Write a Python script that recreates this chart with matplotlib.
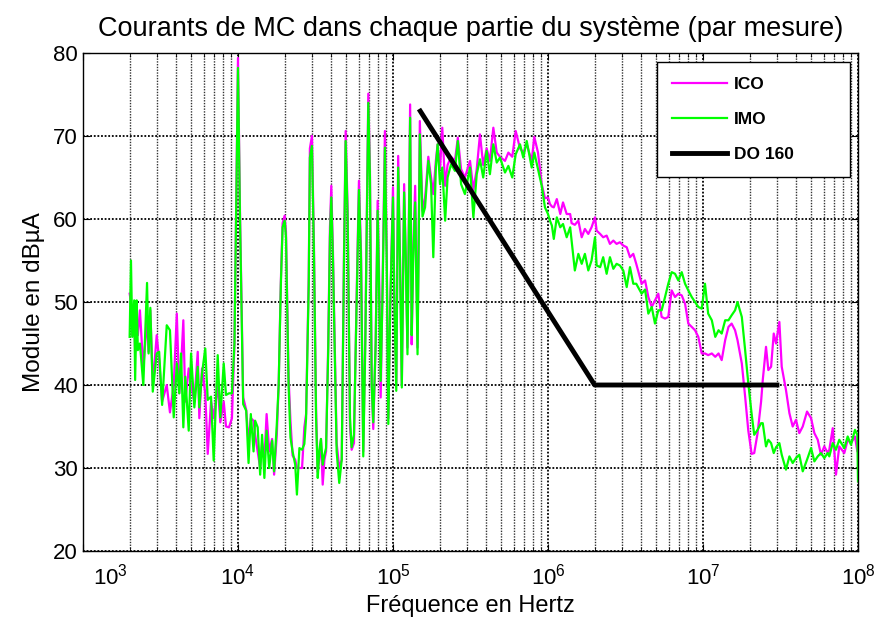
import numpy as np
import matplotlib
matplotlib.use("Agg")
import matplotlib.pyplot as plt
import matplotlib.transforms as mtransforms
from matplotlib.ticker import FixedLocator, LogLocator, NullFormatter

plt.rcParams['font.family'] = ['Liberation Sans', 'DejaVu Sans']
plt.rcParams['mathtext.default'] = 'regular'

# frequences (Hz)
freq = [
    2.0e3, 2.04e3, 2.08e3, 2.14e3, 2.17e3, 2.22e3, 2.26e3, 2.33e3, 2.45e3, 2.59e3,
    2.65e3, 2.72e3, 2.82e3, 2.99e3, 3.10e3, 3.24e3, 3.47e3, 3.64e3, 3.85e3, 4.03e3,
    4.18e3, 4.29e3, 4.44e3, 4.57e3, 4.81e3, 4.98e3, 5.23e3, 5.50e3, 5.63e3, 5.86e3,
    6.15e3, 6.38e3, 6.70e3, 6.97e3, 7.40e3, 7.69e3, 8.09e3, 8.37e3, 8.75e3, 9.14e3,
    9.49e3, 1.0e4,
    1.03e4, 1.08e4, 1.13e4, 1.17e4, 1.21e4, 1.26e4, 1.29e4, 1.34e4, 1.39e4, 1.43e4,
    1.48e4, 1.53e4, 1.59e4, 1.66e4, 1.71e4, 1.78e4, 1.83e4, 1.89e4, 1.94e4, 2.0e4,
    2.04e4, 2.12e4, 2.18e4, 2.25e4, 2.34e4, 2.40e4, 2.49e4, 2.59e4, 2.68e4, 2.75e4,
    2.86e4, 2.91e4, 3.0e4, 3.09e4, 3.19e4, 3.27e4, 3.34e4, 3.43e4, 3.52e4, 3.61e4,
    3.70e4, 3.82e4, 3.92e4, 4.0e4,
    4.1e4, 4.33e4, 4.50e4, 4.67e4, 4.83e4, 4.95e4, 5.10e4, 5.28e4, 5.41e4, 5.60e4,
    5.83e4, 6.03e4, 6.22e4, 6.43e4, 6.63e4, 6.93e4, 7.10e4, 7.29e4, 7.46e4, 7.73e4,
    7.96e4, 8.16e4, 8.33e4, 8.58e4, 8.87e4, 9.11e4, 9.33e4, 9.61e4, 1.0e5, 1.02e5,
    1.05e5, 1.08e5, 1.11e5, 1.14e5, 1.18e5, 1.21e5, 1.24e5, 1.29e5, 1.32e5, 1.35e5,
    1.39e5, 1.44e5, 1.49e5, 1.55e5,
    1.61e5, 1.69e5, 1.76e5, 1.82e5, 1.89e5, 1.94e5, 2.01e5, 2.08e5, 2.17e5, 2.25e5,
    2.37e5, 2.51e5, 2.62e5, 2.75e5, 2.91e5, 3.14e5, 3.30e5, 3.47e5, 3.64e5, 3.82e5,
    4.02e5, 4.22e5, 4.44e5, 4.67e5, 4.90e5, 5.28e5, 5.55e5, 5.88e5, 6.19e5, 6.60e5,
    6.93e5, 7.29e5, 7.85e5, 8.16e5, 8.62e5, 9.11e5, 9.56e5,
    1.0e6, 1.03e6, 1.06e6, 1.09e6, 1.14e6, 1.20e6, 1.25e6, 1.32e6, 1.39e6, 1.42e6,
    1.49e6, 1.57e6, 1.65e6, 1.73e6, 1.82e6, 1.91e6, 2.01e6, 2.06e6, 2.17e6, 2.27e6,
    2.39e6, 2.51e6, 2.64e6, 2.77e6, 2.91e6, 3.06e6, 3.22e6, 3.38e6, 3.55e6, 3.71e6,
    4.02e6, 4.23e6, 4.44e6, 4.67e6, 4.90e6, 5.15e6, 5.41e6, 5.69e6, 5.97e6, 6.28e6,
    6.60e6, 6.93e6, 7.29e6, 7.66e6, 8.04e6, 8.46e6, 8.88e6, 9.33e6, 9.81e6, 1.03e7,
    1.08e7, 1.14e7, 1.20e7, 1.26e7, 1.32e7, 1.39e7, 1.46e7, 1.53e7, 1.61e7, 1.67e7,
    1.78e7, 1.87e7, 1.96e7, 2.06e7,
    2.14e7, 2.25e7, 2.37e7, 2.43e7, 2.55e7, 2.64e7, 2.75e7, 2.86e7, 2.96e7, 3.11e7,
    3.22e7, 3.43e7, 3.61e7, 3.79e7, 3.98e7, 4.18e7, 4.40e7, 4.69e7, 4.98e7, 5.23e7,
    5.50e7, 5.77e7, 6.06e7, 6.38e7, 6.53e7, 6.87e7, 7.21e7, 7.57e7, 8.16e7, 8.58e7,
    9.01e7, 9.56e7, 9.9e7, 1.0e8,
]

# ICO (magenta) en dBuA
ico = [
    51.0, 50.0, 46.0, 48.0, 44.0, 47.0, 46.0, 49.0, 42.0, 48.0,
    44.0, 49.0, 40.0, 46.0, 43.0, 38.0, 40.0, 36.7, 40.0, 48.6,
    39.0, 42.0, 47.8, 38.0, 42.0, 40.0, 38.0, 44.0, 36.0, 42.0,
    39.0, 31.7, 38.0, 36.0, 40.0, 35.5, 38.0, 35.0, 34.9, 36.0,
    45.0, 79.4,
    61.0, 38.5, 37.0, 33.0, 36.0, 35.7, 34.0, 32.0, 30.0, 33.0,
    31.0, 36.5, 32.0, 33.5, 29.2, 34.0, 40.0, 52.5, 59.5, 60.4,
    58.5, 41.0, 35.7, 31.5, 31.0, 30.0, 30.0, 30.0, 34.9, 36.5,
    53.0, 68.5, 70.0, 57.0, 37.0, 29.5, 31.0, 33.5, 28.0, 31.0,
    32.0, 45.0, 59.0, 64.0,
    56.0, 33.0, 30.0, 31.0, 56.0, 70.6, 61.0, 35.0, 32.2, 33.0,
    51.0, 64.6, 56.0, 32.0, 46.0, 75.1, 66.0, 40.0, 34.7, 45.0,
    62.2, 52.0, 38.5, 53.0, 70.6, 56.0, 36.0, 50.0, 63.8, 51.0,
    40.0, 67.6, 55.0, 40.0, 64.2, 55.0, 44.5, 73.8, 44.9, 56.0,
    64.0, 44.5, 71.8, 61.0,
    62.5, 67.5, 65.0, 63.0, 67.0, 69.0, 66.0, 71.0, 64.0, 66.5,
    67.5, 67.0, 69.8, 66.0, 65.0, 67.0, 63.5, 66.0, 70.2, 66.5,
    68.5, 67.0, 71.0, 68.0, 67.5, 67.0, 68.0, 67.5, 70.6, 68.5,
    68.0, 69.0, 67.0, 69.9, 68.0, 64.2, 62.5,
    62.6, 61.8, 61.5, 61.4, 62.4, 60.6, 62.0, 60.6, 60.6, 59.5,
    59.3, 59.8, 57.8, 58.8, 58.2, 59.0, 60.2, 58.6, 58.2, 57.8,
    58.0, 57.0, 57.4, 57.0, 57.2, 56.8, 56.6, 55.4, 55.8, 54.6,
    52.2, 52.6, 50.6, 49.4, 50.2, 51.0, 48.2, 48.0, 48.2, 51.4,
    50.6, 51.0, 50.8, 49.8, 47.4, 47.0, 46.6, 45.8, 43.8, 43.8,
    43.6, 43.8, 43.4, 43.8, 43.0, 45.4, 47.0, 47.4, 46.6, 45.4,
    42.6, 38.6, 34.5, 31.7,
    31.8, 34.2, 38.0, 40.6, 44.6, 41.8, 42.2, 46.2, 45.0, 47.6,
    42.2, 39.4, 36.6, 35.0, 35.8, 34.2, 35.0, 36.8, 36.0, 34.2,
    33.4, 31.6, 32.6, 31.8, 32.2, 34.8, 29.2, 32.6, 31.8, 33.4,
    33.0, 33.8, 32.0, 32.0,
]

# IMO (vert) en dBuA
imo = [
    45.8, 55.0, 45.8, 50.2, 40.6, 50.2, 44.2, 45.0, 40.0, 52.3,
    43.8, 49.3, 39.2, 43.8, 44.0, 37.6, 47.2, 46.6, 36.1, 42.6,
    39.0, 43.8, 34.9, 41.0, 34.5, 43.8, 37.3, 42.2, 37.3, 41.4,
    44.4, 38.2, 38.6, 30.9, 43.6, 36.1, 42.6, 38.8, 39.0, 39.0,
    45.0, 78.2,
    60.2, 37.7, 36.9, 30.6, 36.5, 32.0, 35.7, 34.9, 29.2, 34.0,
    28.8, 34.5, 30.0, 33.3, 29.6, 35.3, 40.0, 52.0, 59.0, 59.8,
    57.8, 40.0, 33.7, 32.0, 30.4, 26.8, 32.4, 32.2, 32.9, 36.0,
    52.0, 67.4, 68.8, 56.0, 36.0, 28.8, 32.0, 33.5, 30.4, 31.6,
    32.4, 44.0, 57.8, 62.6,
    55.0, 32.0, 28.2, 31.0, 55.0, 69.4, 60.0, 36.0, 32.5, 34.0,
    50.0, 63.5, 55.0, 31.4, 45.0, 74.0, 65.0, 40.0, 35.5, 45.0,
    61.0, 50.0, 40.5, 52.0, 68.6, 55.0, 35.3, 50.0, 62.6, 50.0,
    39.3, 66.2, 55.0, 39.7, 63.2, 55.0, 43.7, 72.2, 46.0, 55.0,
    62.0, 43.7, 70.2, 60.3,
    61.4, 67.0, 64.2, 55.4, 66.2, 69.0, 64.2, 66.2, 59.8, 65.0,
    66.6, 65.8, 69.4, 64.2, 63.0, 66.2, 60.2, 65.4, 67.2, 65.0,
    68.2, 65.4, 69.0, 66.8, 67.4, 65.6, 66.4, 65.0, 67.8, 69.0,
    67.4, 69.4, 66.2, 68.0, 66.0, 64.0, 61.4,
    60.6, 59.8, 59.2, 57.6, 60.2, 59.0, 59.4, 57.8, 59.0, 57.4,
    53.8, 55.8, 54.6, 55.8, 53.8, 55.0, 57.8, 54.4, 54.2, 55.4,
    53.4, 55.4, 54.0, 54.6, 54.4, 53.8, 51.8, 54.2, 52.2, 52.2,
    51.0, 51.5, 48.6, 49.4, 47.4, 49.0, 49.0, 50.6, 52.2, 53.6,
    53.4, 52.6, 53.6, 52.2, 51.4, 50.6, 50.0, 49.4, 49.2, 52.2,
    48.6, 47.8, 45.8, 46.6, 46.2, 47.8, 47.8, 48.4, 49.0, 50.0,
    48.2, 44.2, 40.2, 36.5,
    34.0, 34.6, 35.4, 35.4, 32.6, 33.4, 33.0, 31.8, 32.5, 33.0,
    31.6, 29.8, 31.4, 30.6, 31.2, 31.6, 29.6, 31.0, 32.4, 30.8,
    31.4, 31.8, 31.2, 31.8, 31.4, 33.0, 32.2, 33.4, 32.4, 33.8,
    32.8, 34.6, 34.0, 28.4,
]

# gabarit DO 160
do160_freq = [1.5e5, 2.0e6, 3.0e7]
do160_level = [73.0, 40.0, 40.0]

xticks_pos = [1e3, 1e4, 1e5, 1e6, 1e7, 1e8]
xticks_lab = ['$10^{3}$', '$10^{4}$', '$10^{5}$', '$10^{6}$', '$10^{7}$', '$10^{8}$']

fig = plt.figure(figsize=(8.8, 6.28), dpi=100)
ax = fig.add_axes([0.0943, 0.1226, 0.8807, 0.793])

ax.plot(freq, ico, color='#ff00ff', lw=1.6, label='ICO')
ax.plot(freq, imo, color='#00ff00', lw=1.6, label='IMO')
ax.plot(do160_freq, do160_level, color='k', lw=3.5, label='DO 160')

ax.set_xscale('log')
ax.set_xlim(1e3, 1e8)
ax.set_ylim(20, 80)
ax.xaxis.set_major_locator(FixedLocator(xticks_pos))
ax.set_xticklabels(xticks_lab)
ax.xaxis.set_minor_locator(LogLocator(base=10, subs=np.arange(2, 10)))
ax.xaxis.set_minor_formatter(NullFormatter())
ax.set_yticks(np.arange(20, 81, 10))

ax.grid(which='major', color='k', lw=1.3, ls=(0, (1, 1)))
ax.grid(which='minor', axis='x', color='0.2', lw=1.0, ls=(0, (1, 1)))
ax.tick_params(which='both', direction='in', top=True, right=True, labelsize=16)
ax.tick_params(which='major', length=5)
ax.tick_params(which='minor', length=3)
ax.tick_params(axis='x', which='major', pad=9)
for s in ax.spines.values():
    s.set_linewidth(1.0)

# premier label decale comme sur l'original
lab0 = ax.get_xticklabels()[0]
lab0.set_transform(lab0.get_transform() +
                   mtransforms.ScaledTranslation(27 / 100, 0, fig.dpi_scale_trans))

ax.set_title('Courants de MC dans chaque partie du système (par mesure)', fontsize=19.5, pad=12)
ax.set_xlabel('Fréquence en Hertz', fontsize=17, labelpad=4)
ax.set_ylabel('Module en dBµA', fontsize=17.5, labelpad=6)

leg = ax.legend(loc='upper left', bbox_to_anchor=(0.7406, 0.5, 0.249, 0.482),
                mode='expand', borderaxespad=0,
                fancybox=False, framealpha=1, edgecolor='k',
                prop={'weight': 'bold', 'size': 12.5}, handlelength=3.2,
                labelspacing=1.15, borderpad=0.85, handletextpad=0.4)
leg.get_frame().set_linewidth(1.0)

fig.savefig('out.png', dpi=100)
